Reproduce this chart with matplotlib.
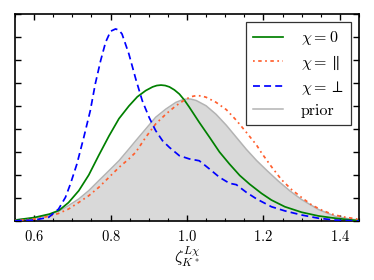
import matplotlib
matplotlib.use("Agg")
import matplotlib.pyplot as plt

plt.rcParams['font.family'] = 'serif'
plt.rcParams['font.serif'] = ['cmr10']
plt.rcParams['mathtext.fontset'] = 'cm'
plt.rcParams['axes.formatter.use_mathtext'] = True

# chi = 0 (green, solid)
x_par0 = [0.55, 0.60, 0.64, 0.665, 0.69, 0.717, 0.743, 0.769, 0.796, 0.822, 0.848,
          0.87, 0.892, 0.91, 0.921, 0.932, 0.943, 0.954, 0.967, 0.98, 0.993, 1.006,
          1.032, 1.059, 1.085, 1.111, 1.138, 1.164, 1.195, 1.221, 1.256, 1.30,
          1.344, 1.388, 1.432, 1.45]
y_par0 = [0.04, 0.15, 0.30, 0.46, 0.80, 1.32, 2.00, 2.85, 3.70, 4.45, 5.00,
          5.40, 5.67, 5.83, 5.89, 5.91, 5.89, 5.83, 5.70, 5.52, 5.26, 4.95,
          4.29, 3.64, 3.00, 2.48, 1.98, 1.60, 1.20, 0.91, 0.62, 0.38,
          0.22, 0.12, 0.04, 0.02]

# chi = parallel (orange, dash-dot)
x_para = [0.55, 0.603, 0.638, 0.664, 0.69, 0.717, 0.743, 0.769, 0.796, 0.822, 0.848,
          0.866, 0.892, 0.918, 0.945, 0.971, 0.997, 1.012, 1.024, 1.037, 1.05, 1.076,
          1.103, 1.129, 1.155, 1.182, 1.195, 1.221, 1.247, 1.274, 1.30, 1.326, 1.353,
          1.379, 1.405, 1.432, 1.45]
y_para = [0.02, 0.09, 0.20, 0.33, 0.52, 0.81, 1.10, 1.46, 1.90, 2.33, 2.70,
          2.99, 3.64, 4.22, 4.65, 5.01, 5.30, 5.41, 5.45, 5.44, 5.38, 5.16,
          4.84, 4.38, 3.86, 3.30, 2.96, 2.36, 1.80, 1.36, 1.02, 0.70, 0.47,
          0.30, 0.19, 0.12, 0.07]

# chi = perp (blue, dashed)
x_perp = [0.55, 0.60, 0.638, 0.664, 0.682, 0.695, 0.712, 0.73, 0.747, 0.76, 0.774,
          0.787, 0.80, 0.813, 0.822, 0.83, 0.848, 0.866, 0.883, 0.901, 0.918, 0.936,
          0.954, 0.98, 1.006, 1.032, 1.059, 1.085, 1.111, 1.129, 1.155, 1.182, 1.221,
          1.256, 1.30, 1.344, 1.388, 1.45]
y_perp = [0.01, 0.04, 0.16, 0.52, 1.03, 1.61, 2.48, 3.64, 4.80, 5.96, 6.97,
          7.77, 8.25, 8.35, 8.30, 8.13, 7.26, 6.17, 5.23, 4.50, 3.93, 3.49,
          3.20, 2.84, 2.70, 2.62, 2.26, 1.90, 1.64, 1.58, 1.25, 0.96, 0.62,
          0.44, 0.26, 0.12, 0.04, 0.0]

# prior (grey, filled)
x_prior = [0.55, 0.603, 0.638, 0.664, 0.69, 0.717, 0.743, 0.769, 0.796, 0.822, 0.848,
           0.866, 0.892, 0.918, 0.945, 0.971, 0.985, 0.997, 1.01, 1.024, 1.05, 1.076,
           1.103, 1.129, 1.155, 1.182, 1.21, 1.24, 1.27, 1.30, 1.344, 1.388, 1.432,
           1.45]
y_prior = [0.04, 0.13, 0.26, 0.42, 0.67, 0.96, 1.32, 1.75, 2.19, 2.62, 3.13,
           3.49, 4.00, 4.51, 4.87, 5.16, 5.25, 5.30, 5.30, 5.24, 5.01, 4.64,
           4.16, 3.64, 3.12, 2.63, 2.18, 1.72, 1.30, 0.93, 0.50, 0.20, 0.07,
           0.05]

fig = plt.figure(figsize=(3.74, 2.8), dpi=100)
ax = fig.add_axes([15 / 374, 59 / 280, 344 / 374, 207 / 280])

ax.fill_between(x_prior, y_prior, 0, color='#d9d9d9', lw=0, zorder=1)
ax.plot(x_prior, y_prior, color='#b3b3b3', lw=1.1, zorder=2, label='prior')
ax.plot(x_par0, y_par0, color='#008000', lw=1.25, zorder=3, label=r'$\chi = 0$')
ax.plot(x_para, y_para, color='#ff5f2e', lw=1.25, zorder=3,
        dashes=(1.0, 2.0, 2.0, 2.0), label=r'$\chi = \parallel$')
ax.plot(x_perp, y_perp, color='#0000ff', lw=1.25, zorder=4,
        dashes=(4.0, 2.4), label=r'$\chi = \perp$')

ax.set_xlim(0.55, 1.45)
ax.set_ylim(0, 9)
ax.set_xticks([0.6, 0.8, 1.0, 1.2, 1.4])
ax.set_xticks([0.55 + 0.05 * i for i in range(19)], minor=True)
ax.set_yticks(range(10))
ax.set_yticklabels([])
ax.tick_params(which='both', direction='in', top=True, right=True, labelsize=10.5, pad=6)
ax.tick_params(which='major', length=4.5, width=1.0)
ax.tick_params(which='minor', length=2.2, width=0.8)
for s in ax.spines.values():
    s.set_linewidth(1.2)

ax.set_xlabel(r'$\zeta_{K^*}^{L\chi}$', fontsize=12, labelpad=0)

handles, labels = ax.get_legend_handles_labels()
order = [1, 2, 3, 0]
leg = ax.legend([handles[i] for i in order], [labels[i] for i in order],
                loc='upper right', fontsize=11.5, fancybox=False, framealpha=1,
                edgecolor='#333333', handlelength=1.9, handletextpad=1.1,
                labelspacing=0.42, borderpad=0.45, borderaxespad=0.5)
leg.get_frame().set_linewidth(0.9)

plt.savefig('out.png', dpi=100)
